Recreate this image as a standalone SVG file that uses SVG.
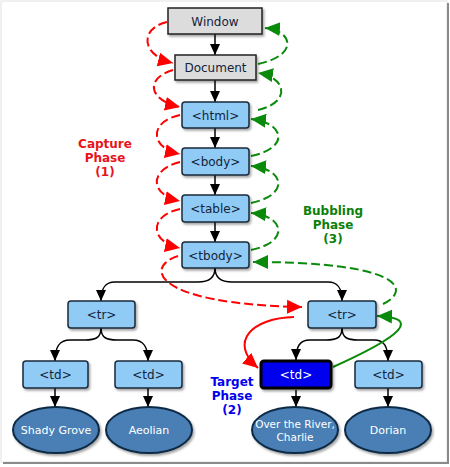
<svg xmlns="http://www.w3.org/2000/svg" width="450" height="467" viewBox="0 0 450 467">
<defs>
<filter id="sh" x="-20%" y="-20%" width="150%" height="160%"><feDropShadow dx="1.5" dy="2" stdDeviation="1.2" flood-color="#000" flood-opacity="0.35"/></filter>
<marker id="ab" markerUnits="userSpaceOnUse" markerWidth="12" markerHeight="12" viewBox="0 0 12 12" refX="11" refY="6" orient="auto"><path d="M0,1 L11,6 L0,11 Z" fill="#000"/></marker>
<marker id="ar" markerUnits="userSpaceOnUse" markerWidth="16" markerHeight="16" viewBox="0 0 16 16" refX="15" refY="8" orient="auto"><path d="M0,1 L15,8 L0,15 Z" fill="#f00"/></marker>
<marker id="ag" markerUnits="userSpaceOnUse" markerWidth="16" markerHeight="16" viewBox="0 0 16 16" refX="15" refY="8" orient="auto"><path d="M0,1 L15,8 L0,15 Z" fill="#0a8a0a"/></marker>
</defs>
<style>
.box{fill:#8fcbf5;stroke:#1a2a3a;stroke-width:1.5}
.gbox{fill:#dcdcdc;stroke:#222;stroke-width:1.5}
.tbox{fill:#0000ee;stroke:#000;stroke-width:3}
.ell{fill:#4a7fb5;stroke:#0f2a45;stroke-width:2}
.t{font-family:"DejaVu Sans",Verdana,sans-serif;font-size:12px;fill:#13233a;text-anchor:middle}
.tw{font-family:"DejaVu Sans",Verdana,sans-serif;font-size:11px;fill:#fff;text-anchor:middle}
.lab{font-family:"DejaVu Sans",Verdana,sans-serif;font-size:12px;font-weight:bold;text-anchor:middle}
.blk{fill:none;stroke:#000;stroke-width:1.5}
.cap{fill:none;stroke:#f00;stroke-width:2;stroke-dasharray:9,4}
.bub{fill:none;stroke:#0a8a0a;stroke-width:2;stroke-dasharray:9,4}
</style>
<rect x="0" y="0" width="450" height="467" fill="#fff"/>
<rect x="1" y="1" width="446" height="461" fill="#fff" stroke="#e2e2e2" stroke-width="1"/>
<path d="M448,3 L448,463 L3,463" fill="none" stroke="#8a8a8a" stroke-width="2"/>

<g id="connectors">
<path class="blk" d="M215,34 L215,55" marker-end="url(#ab)"/>
<path class="blk" d="M215,80 L215,102" marker-end="url(#ab)"/>
<path class="blk" d="M215,128 L215,148" marker-end="url(#ab)"/>
<path class="blk" d="M215,175 L215,195" marker-end="url(#ab)"/>
<path class="blk" d="M215,222 L215,242" marker-end="url(#ab)"/>
<path class="blk" d="M215,268 C215,278 208,282 198,282 L115,282 C105,282 101,288 101,301" marker-end="url(#ab)"/>
<path class="blk" d="M215,268 C215,278 222,282 232,282 L328,282 C338,282 342,288 342,301" marker-end="url(#ab)"/>
<path class="blk" d="M101,328 C101,338 95,340 85,340 L70,340 C60,340 55,346 55,361" marker-end="url(#ab)"/>
<path class="blk" d="M101,328 C101,338 107,340 117,340 L133,340 C143,340 148,346 148,361" marker-end="url(#ab)"/>
<path class="blk" d="M342,328 C342,338 336,340 326,340 L310,340 C300,340 296,346 296,360" marker-end="url(#ab)"/>
<path class="blk" d="M342,328 C342,338 348,340 358,340 L374,340 C384,340 388,346 388,361" marker-end="url(#ab)"/>
<path class="blk" d="M55,388 L55,407" marker-end="url(#ab)"/>
<path class="blk" d="M148,388 L148,407" marker-end="url(#ab)"/>
<path class="blk" d="M296,390 L296,407" marker-end="url(#ab)"/>
<path class="blk" d="M388,388 L388,407" marker-end="url(#ab)"/>

<path class="cap" d="M167,22 C140,28 140,55 173,63" marker-end="url(#ar)"/>
<path class="cap" d="M173,70 C145,78 148,100 180,107" marker-end="url(#ar)"/>
<path class="cap" d="M180,115 C148,122 150,148 180,154" marker-end="url(#ar)"/>
<path class="cap" d="M180,162 C148,170 150,195 180,201" marker-end="url(#ar)"/>
<path class="cap" d="M180,209 C148,216 150,242 180,248" marker-end="url(#ar)"/>
<path class="cap" d="M178,256 C145,266 150,304 302,307" marker-end="url(#ar)"/>
<path d="M294,317 C252,318 228,342 258,368" fill="none" stroke="#f00" stroke-width="2" marker-end="url(#ar)"/>

<path class="bub" d="M258,64 C300,55 292,30 265,28" marker-end="url(#ag)"/>
<path class="bub" d="M258,110 C292,102 286,77 258,73" marker-end="url(#ag)"/>
<path class="bub" d="M251,156 C290,148 285,123 251,119" marker-end="url(#ag)"/>
<path class="bub" d="M251,203 C290,195 285,169 251,166" marker-end="url(#ag)"/>
<path class="bub" d="M251,250 C290,242 285,216 251,213" marker-end="url(#ag)"/>
<path class="bub" d="M383,304 C412,290 402,262 253,262" marker-end="url(#ag)"/>
<path d="M333,367 C382,345 432,318 377,316" fill="none" stroke="#0a8a0a" stroke-width="2" marker-end="url(#ag)"/>
</g>

<g id="window"><rect class="gbox" filter="url(#sh)" x="168" y="8" width="94" height="26"/><text class="t" x="215" y="25.5">Window</text></g>
<g id="document"><rect class="gbox" filter="url(#sh)" x="175" y="55" width="81" height="25"/><text class="t" x="215.5" y="72">Document</text></g>
<g id="html"><rect class="box" filter="url(#sh)" x="182" y="102" width="67" height="26" rx="3"/><text class="t" x="215.5" y="119.5">&lt;html&gt;</text></g>
<g id="body"><rect class="box" filter="url(#sh)" x="182" y="148" width="67" height="27" rx="3"/><text class="t" x="215.5" y="166">&lt;body&gt;</text></g>
<g id="table"><rect class="box" filter="url(#sh)" x="182" y="195" width="67" height="27" rx="3"/><text class="t" x="215.5" y="213">&lt;table&gt;</text></g>
<g id="tbody"><rect class="box" filter="url(#sh)" x="182" y="242" width="67" height="26" rx="3"/><text class="t" x="215.5" y="259.5">&lt;tbody&gt;</text></g>
<g id="tr1"><rect class="box" filter="url(#sh)" x="68" y="301" width="67" height="27" rx="3"/><text class="t" x="101.5" y="319">&lt;tr&gt;</text></g>
<g id="tr2"><rect class="box" filter="url(#sh)" x="308" y="301" width="68" height="27" rx="3"/><text class="t" x="342" y="319">&lt;tr&gt;</text></g>
<g id="td1"><rect class="box" filter="url(#sh)" x="23" y="361" width="65" height="27" rx="3"/><text class="t" x="55.5" y="379">&lt;td&gt;</text></g>
<g id="td2"><rect class="box" filter="url(#sh)" x="115" y="361" width="67" height="27" rx="3"/><text class="t" x="148.5" y="379">&lt;td&gt;</text></g>
<g id="td3"><rect class="tbox" filter="url(#sh)" x="261" y="361" width="70" height="27" rx="3"/><text class="t" style="fill:#fff" x="296" y="379">&lt;td&gt;</text></g>
<g id="td4"><rect class="box" filter="url(#sh)" x="355" y="361" width="67" height="27" rx="3"/><text class="t" x="388.5" y="379">&lt;td&gt;</text></g>
<g id="shady"><ellipse class="ell" filter="url(#sh)" cx="56" cy="430" rx="43" ry="23"/><text class="tw" x="56" y="434">Shady Grove</text></g>
<g id="aeolian"><ellipse class="ell" filter="url(#sh)" cx="149" cy="430" rx="43" ry="23"/><text class="tw" x="149" y="434">Aeolian</text></g>
<g id="river"><ellipse class="ell" filter="url(#sh)" cx="295" cy="430" rx="43" ry="23"/><text class="tw" x="295" y="428" style="font-size:10.5px">Over the River,</text><text class="tw" x="295" y="441" style="font-size:10.5px">Charlie</text></g>
<g id="dorian"><ellipse class="ell" filter="url(#sh)" cx="388" cy="430" rx="43" ry="23"/><text class="tw" x="388" y="434">Dorian</text></g>

<g id="capture-label"><text class="lab" fill="#e8141b" x="105" y="148">Capture</text><text class="lab" fill="#e8141b" x="105" y="162">Phase</text><text class="lab" fill="#e8141b" x="105" y="176">(1)</text></g>
<g id="bubbling-label"><text class="lab" fill="#0a800a" x="333" y="215">Bubbling</text><text class="lab" fill="#0a800a" x="333" y="229">Phase</text><text class="lab" fill="#0a800a" x="333" y="243">(3)</text></g>
<g id="target-label"><text class="lab" fill="#0000ee" x="232" y="386">Target</text><text class="lab" fill="#0000ee" x="232" y="400">Phase</text><text class="lab" fill="#0000ee" x="232" y="414">(2)</text></g>
</svg>
